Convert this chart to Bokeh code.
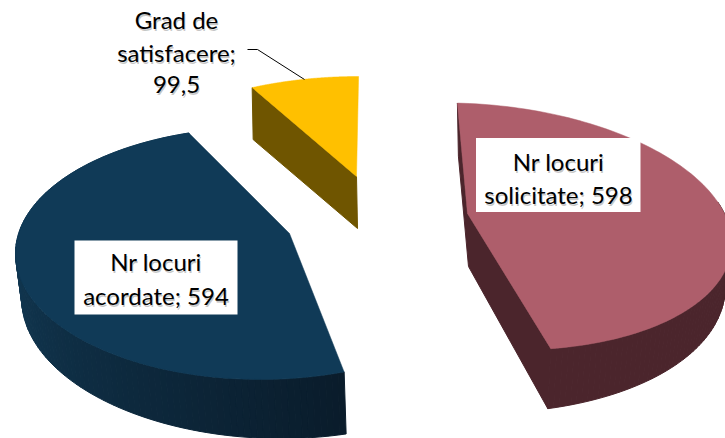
import numpy as np
from bokeh.plotting import figure
from bokeh.models import Range1d
from bokeh.core.properties import value
from bokeh.embed import file_html
from bokeh.resources import INLINE

# ---- data ----
names = ["Nr locuri solicitate", "Nr locuri acordate", "Grad de satisfacere"]
values = [598, 594, 99.5]
label_lines = [["Nr locuri", "solicitate; 598"], ["Nr locuri", "acordate; 594"], ["Grad de", "satisfacere;", "99,5"]]

# ---- layout / style of each exploded slice ----
top_cols = ["#AE5E6B", "#103A57", "#FFC000"]
side_cols = [("#4B252C", "#4B252C"), ("#123A55", "#0A1C2B"), ("#6F5500", "#6F5500")]
ell = [  # cx, cy, a, b, tilt deg, t start, direction, angular stretch
    (480, 226, 252, 122, 5, -97.7, 1, 1.014),
    (260, 253, 245, 126, 0, 253.0, -1, 1.105),
    (358, 190, 247, 114, 0, 244.5, 1, 0.92),
]
apex = [(467, 213), (289, 233), (356, 176)]
rim_shift = [((-11, 18), (-3, 60)), ((9, 32), (2, 62)), ((2, 50), (2, 50))]
rim_from = [0.45, 0.0, 1.0]
radial_shift = [(1, 53), (0, 54), (1, 52)]
total = sum(values)

p = figure(width=725, height=438, output_backend="svg", toolbar_location=None,
           x_range=Range1d(0, 725), y_range=Range1d(438, 0), min_border=0)
p.axis.visible = False
p.grid.visible = False
p.outline_line_color = None
p.background_fill_color = "white"
p.border_fill_color = "white"


def hex2rgb(h):
    return np.array([int(h[i:i + 2], 16) for i in (1, 3, 5)], float)


def arc(i, n=121):
    cx, cy, a, b, phi, t0, d, k = ell[i]
    f = np.linspace(0, 1, n)
    t = np.radians(t0 + d * k * 360 * values[i] / total * f)
    ph = np.radians(phi)
    u, v = a * np.cos(t), b * np.sin(t)
    return f, cx + u * np.cos(ph) - v * np.sin(ph), cy + u * np.sin(ph) + v * np.cos(ph)


for i in range(3):
    f, x, y = arc(i)
    (s0, s1) = rim_shift[i]
    dx = s0[0] + (s1[0] - s0[0]) * f
    dy = s0[1] + (s1[1] - s0[1]) * f
    c0, c1 = hex2rgb(side_cols[i][0]), hex2rgb(side_cols[i][1])
    ax, ay = apex[i]
    rx, ry = radial_shift[i]
    # radial side faces
    if i == 0:
        p.patch([x[0], x[0] + rx, ax + rx, x[-1] + s1[0], x[-1], ax],
                [y[0], y[0] + ry, ay + ry, y[-1] + s1[1], y[-1], ay],
                fill_color=side_cols[i][0], line_color=side_cols[i][0])
    if i == 2:
        p.patch([x[0], x[0] + rx, ax + rx, ax], [y[0], y[0] + ry, ay + ry, ay],
                fill_color=side_cols[i][0], line_color=side_cols[i][0])
    # rim side face
    xs, ys, cols = [], [], []
    for j in range(len(f) - 1):
        if f[j] < rim_from[i]:
            continue
        xs.append([x[j], x[j + 1], x[j + 1] + dx[j + 1], x[j] + dx[j]])
        ys.append([y[j], y[j + 1], y[j + 1] + dy[j + 1], y[j] + dy[j]])
        c = c0 + (c1 - c0) * max(0, (f[j] - .35) / .65)
        cols.append("#%02x%02x%02x" % tuple(int(q) for q in c))
    if xs:
        p.patches(xs, ys, fill_color=cols, line_color=cols, line_width=1)
    # top face
    p.patch(list(x) + [ax], list(y) + [ay], fill_color=top_cols[i], line_color=top_cols[i], line_width=0.5)

# leader line
p.line([247, 257, 304], [49, 49, 79], line_color="black", line_width=1)

# label boxes
p.quad(left=[475.5, 74], right=[640, 237], top=[137.5, 240], bottom=[211.5, 314], fill_color="white", line_color=None)

# labels
anchors = [(558, [161, 194]), (155.5, [261, 295]), (176, [19, 52, 84])]
for (ax, ys), lines in zip(anchors, label_lines):
    xs = [ax] * len(lines)
    p.text([q + 1 for q in xs], [q + 1.5 for q in ys], text=lines, text_font=value("Lato"), text_font_size="24px",
           text_align="center", text_baseline="middle", text_color="black", text_alpha=0.22)
    p.text(xs, ys, text=lines, text_font=value("Lato"), text_font_size="24px",
           text_align="center", text_baseline="middle", text_color="black")

open("out.html", "w").write(file_html(p, INLINE))
